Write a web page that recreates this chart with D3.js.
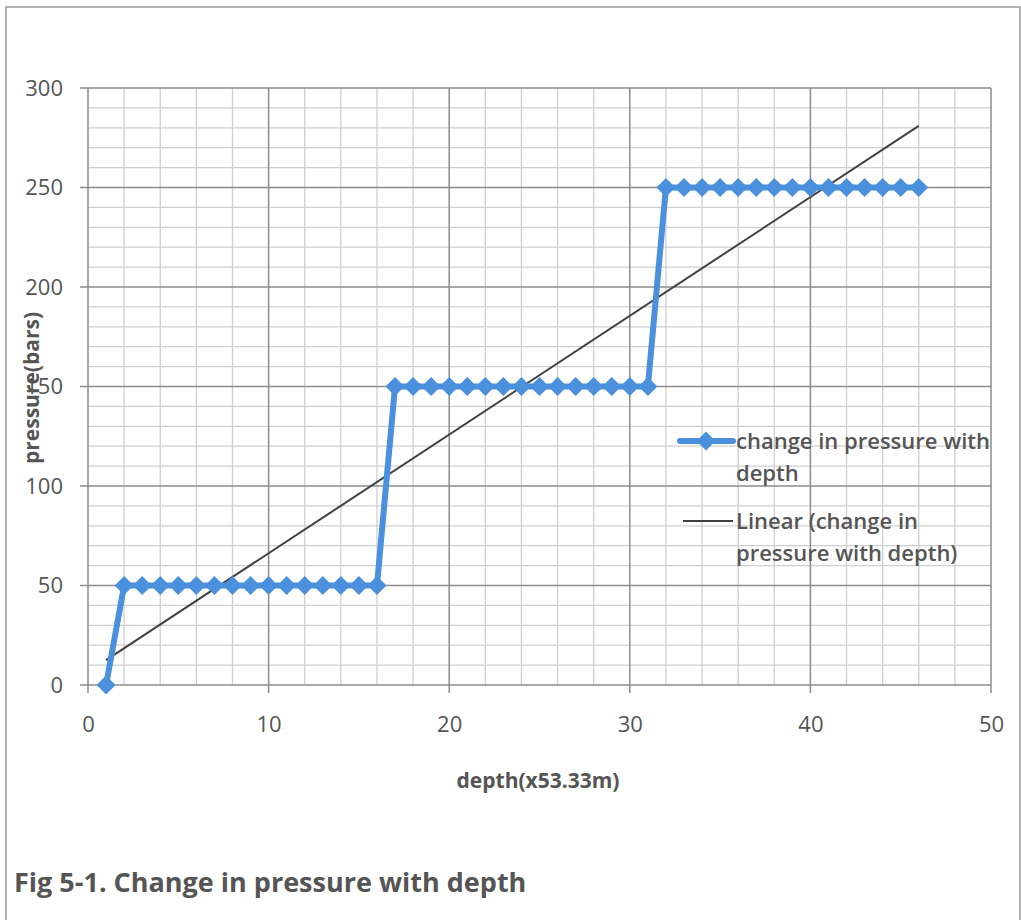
<!DOCTYPE html>
<html><head><meta charset="utf-8">
<script src="https://cdn.jsdelivr.net/npm/d3@7"></script>
<style>
html,body{margin:0;padding:0;background:#fff;}
svg{display:block;font-family:"Open Sans","Liberation Sans",sans-serif;}
</style></head>
<body>
<svg id="c" width="1021" height="920"></svg>
<script>
const depth = [1,2,3,4,5,6,7,8,9,10,11,12,13,14,15,16,17,18,19,20,21,22,23,24,25,26,27,28,29,30,31,32,33,34,35,36,37,38,39,40,41,42,43,44,45,46];
const pressure = [0,50,50,50,50,50,50,50,50,50,50,50,50,50,50,50,150,150,150,150,150,150,150,150,150,150,150,150,150,150,150,250,250,250,250,250,250,250,250,250,250,250,250,250,250,250];
const xTicks = [0,10,20,30,40,50];
const yTicks = [0,50,100,150,200,250,300];
const seriesName = "change in pressure with depth";
const trendName = "Linear (change in pressure with depth)";

const svg = d3.select("#c");
const txt = "#555555";
const pL = 88, pR = 991, pT = 88, pB = 685;
const x = d3.scaleLinear().domain([0,50]).range([pL,pR]);
const y = d3.scaleLinear().domain([0,300]).range([pB,pT]);

// outer frame
svg.append("rect").attr("x",6).attr("y",7).attr("width",1014).attr("height",930)
  .attr("fill","none").attr("stroke","#9a9a9a").attr("stroke-width",1.5);

// minor grid
const g = svg.append("g");
d3.range(0,51,2).forEach(v=>{ if(v%10) g.append("line").attr("x1",x(v)).attr("x2",x(v)).attr("y1",pT).attr("y2",pB).attr("stroke","#cfcfcf").attr("stroke-width",1.3);});
d3.range(0,301,10).forEach(v=>{ if(v%50) g.append("line").attr("x1",pL).attr("x2",pR).attr("y1",y(v)).attr("y2",y(v)).attr("stroke","#cfcfcf").attr("stroke-width",1.3);});
// major grid
xTicks.forEach(v=>g.append("line").attr("x1",x(v)).attr("x2",x(v)).attr("y1",pT).attr("y2",pB+8).attr("stroke","#8c8c8c").attr("stroke-width",1.5));
yTicks.forEach(v=>g.append("line").attr("x1",pL-8).attr("x2",pR).attr("y1",y(v)).attr("y2",y(v)).attr("stroke","#8c8c8c").attr("stroke-width",1.5));

// axes labels via d3 axes (no domain lines)
const xa = svg.append("g").attr("transform",`translate(0,${pB})`)
  .call(d3.axisBottom(x).tickValues(xTicks).tickSize(0).tickPadding(31));
const ya = svg.append("g").attr("transform",`translate(${pL},0)`)
  .call(d3.axisLeft(y).tickValues(yTicks).tickSize(0).tickPadding(25));
[xa,ya].forEach(a=>{a.select(".domain").remove();
  a.selectAll("text").attr("font-size",22).attr("fill",txt).attr("font-family","'Open Sans',sans-serif");});

// trendline (least squares)
const mx = d3.mean(depth), my = d3.mean(pressure);
let sxy=0,sxx=0; depth.forEach((d,i)=>{sxy+=(d-mx)*(pressure[i]-my); sxx+=(d-mx)*(d-mx);});
const slope = sxy/sxx, icpt = my - slope*mx;
const x0 = d3.min(depth), x1 = d3.max(depth);
svg.append("line").attr("x1",x(x0)).attr("y1",y(icpt+slope*x0)).attr("x2",x(x1)).attr("y2",y(icpt+slope*x1))
  .attr("stroke","#404040").attr("stroke-width",2);

// series
const blue = "#4a90dc";
const data = depth.map((d,i)=>[d,pressure[i]]);
svg.append("path").datum(data).attr("d",d3.line().x(d=>x(d[0])).y(d=>y(d[1])))
  .attr("fill","none").attr("stroke",blue).attr("stroke-width",6).attr("stroke-linejoin","round");
svg.append("g").selectAll("path").data(data).join("path")
  .attr("transform",d=>`translate(${x(d[0])},${y(d[1])}) rotate(45)`)
  .attr("d",d3.symbol().type(d3.symbolSquare).size(180)).attr("fill",blue);

// legend
const lg = svg.append("g");
lg.append("line").attr("x1",680).attr("x2",733).attr("y1",441).attr("y2",441).attr("stroke",blue).attr("stroke-width",6).attr("stroke-linecap","round");
lg.append("path").attr("transform","translate(706,441) rotate(45)").attr("d",d3.symbol().type(d3.symbolSquare).size(180)).attr("fill",blue);
lg.append("line").attr("x1",683).attr("x2",733).attr("y1",521).attr("y2",521).attr("stroke","#404040").attr("stroke-width",2);
const legLines = [["change in pressure with",449],["depth",481],["Linear (change in",529],["pressure with depth)",561]];
legLines.forEach(([t,yy])=>lg.append("text").attr("x",736).attr("y",yy).attr("font-size",22).attr("font-weight",600).attr("fill",txt).attr("textLength",null).text(t));

// axis titles
svg.append("text").attr("x",538).attr("y",788).attr("text-anchor","middle").attr("font-size",21).attr("font-weight",700).attr("fill",txt).text("depth(x53.33m)");
svg.append("text").attr("transform","translate(39,388) rotate(-90)").attr("text-anchor","middle").attr("font-size",21).attr("font-weight",700).attr("fill",txt).text("pressure(bars)");

// caption
svg.append("text").attr("x",14).attr("y",892).attr("font-size",27).attr("font-weight",700).attr("fill",txt).text("Fig 5-1. Change in pressure with depth");
</script>
</body></html>
